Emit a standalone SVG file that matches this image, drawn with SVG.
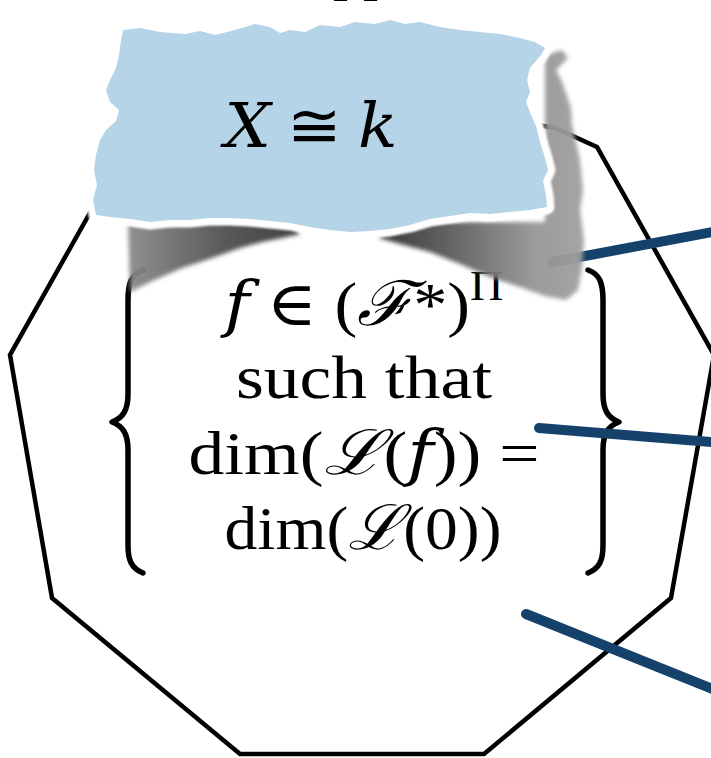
<svg xmlns="http://www.w3.org/2000/svg" width="711" height="758" viewBox="0 0 711 758">
<style>
.poly{fill:none;stroke:#000;stroke-width:4.5;stroke-linejoin:miter}
.lead{fill:none;stroke:#15426b;stroke-width:10;stroke-linecap:round}
.brace{fill:none;stroke:#000;stroke-width:5.5;stroke-linecap:round;stroke-linejoin:round}
.math{font-family:"Liberation Serif","Times New Roman",serif;fill:#000}
.it{font-family:"DejaVu Serif",serif;font-style:italic}
.sym{font-family:"DejaVu Serif","DejaVu Sans",serif}
</style>
<defs>
<filter id="blur2" x="-20%" y="-20%" width="140%" height="140%"><feGaussianBlur stdDeviation="2.2"/></filter>
<filter id="blur1" x="-10%" y="-10%" width="120%" height="120%"><feGaussianBlur stdDeviation="1.3"/></filter>
<filter id="blur05" x="-10%" y="-10%" width="120%" height="120%"><feGaussianBlur stdDeviation="0.6"/></filter>
<linearGradient id="shR" gradientUnits="userSpaceOnUse" x1="380" y1="0" x2="585" y2="0">
<stop offset="0" stop-color="#2e2e2e"/><stop offset="0.45" stop-color="#6a6a6a"/><stop offset="0.75" stop-color="#959595"/><stop offset="1" stop-color="#a0a0a0"/>
</linearGradient>
<linearGradient id="shL" gradientUnits="userSpaceOnUse" x1="128" y1="0" x2="290" y2="0">
<stop offset="0" stop-color="#8a8a8a"/><stop offset="0.6" stop-color="#505050"/><stop offset="1" stop-color="#3a3a3a"/>
</linearGradient>
</defs>

<text class="math" x="333" y="-12" font-size="60">pp</text>

<g id="frame">
<polygon class="poly" points="240,754 484,754 671,598 714,355 597,147 555,128 362,95 169,128 127,147 10,355 52,598"/>
</g>

<g id="brackets">
<path class="brace" d="M143,270 C131,274 128,284 128,300 L128,394 C128,410 123,418 112,422 C123,426 128,434 128,450 L128,545 C128,560 131,568 143,573"/>
<path class="brace" d="M588,270 C600,274 603,284 603,300 L603,394 C603,410 608,418 619,422 C608,426 603,434 603,450 L603,545 C603,560 600,568 588,573"/>
</g>

<g id="set-text">
<text class="math" x="364" y="325" font-size="62" text-anchor="middle" textLength="279" lengthAdjust="spacingAndGlyphs"><tspan class="it">f</tspan> <tspan class="sym">∈</tspan> (<tspan class="it">ℱ</tspan>*)<tspan font-size="42" dy="-25">Π</tspan></text>
<text class="math" x="364" y="398" font-size="62" text-anchor="middle" textLength="256" lengthAdjust="spacingAndGlyphs">such that</text>
<text class="math" x="364" y="474" font-size="62" text-anchor="middle" textLength="351" lengthAdjust="spacingAndGlyphs">dim(<tspan class="it">ℒ</tspan>(<tspan class="it">f</tspan>)) =</text>
<text class="math" x="363" y="549" font-size="62" text-anchor="middle" textLength="277" lengthAdjust="spacingAndGlyphs">dim(<tspan class="it">ℒ</tspan>(0))</text>
</g>

<g id="connectors">
<line class="lead" x1="553" y1="262" x2="760" y2="223"/>
<line class="lead" x1="539" y1="428" x2="760" y2="446"/>
<line class="lead" x1="526" y1="614" x2="760" y2="708"/>
</g>

<g id="paper">
<g filter="url(#blur2)">
<path fill="url(#shR)" opacity="0.95" d="M545,55 L562,50 L568,58 L556,70 L562,82 L567,96 L571,108 L572,125 L576,142 L580,160 L583,190 L580,210 L584,240 L582,268 L578,290 L566,300 L545,296 L520,287 L490,277 L460,264 L430,252 L400,244 L380,238 L380,222 L545,222 Z"/>
<path fill="url(#shL)" opacity="0.95" d="M128,222 L290,222 L300,234 L282,238 L262,242 L240,248 L212,258 L182,268 L152,281 L130,292 Z"/>
</g>
<path filter="url(#blur1)" fill="#fff" stroke="#fff" stroke-width="15" stroke-linejoin="round" d="M123,30 L140,28 L160,32 L185,34 L200,31 L215,35 L235,30 L255,24 L270,27 L280,33 L290,30 L305,32 L320,25 L340,27 L355,22 L375,24 L390,20 L405,24 L420,22 L440,27 L460,30 L480,32 L500,34 L520,38 L535,42 L545,48 L541,55 L530,68 L527,80 L530,92 L526,102 L531,115 L536,126 L540,142 L545,158 L548,170 L543,181 L546,195 L547,207 L530,210 L510,212 L490,214 L470,213 L450,216 L430,219 L410,225 L390,229 L370,231 L350,232 L330,230 L310,227 L290,223 L270,221 L250,219 L230,218 L210,218 L190,220 L170,220 L150,222 L130,219 L110,217 L96,215 L93,200 L97,185 L94,170 L96,155 L100,140 L106,130 L116,121 L119,110 L110,102 L106,90 L110,80 L116,68 L119,55 L121,40 Z"/>
<path filter="url(#blur05)" fill="#b6d4e8" d="M123,30 L140,28 L160,32 L185,34 L200,31 L215,35 L235,30 L255,24 L270,27 L280,33 L290,30 L305,32 L320,25 L340,27 L355,22 L375,24 L390,20 L405,24 L420,22 L440,27 L460,30 L480,32 L500,34 L520,38 L535,42 L545,48 L541,55 L530,68 L527,80 L530,92 L526,102 L531,115 L536,126 L540,142 L545,158 L548,170 L543,181 L546,195 L547,207 L530,210 L510,212 L490,214 L470,213 L450,216 L430,219 L410,225 L390,229 L370,231 L350,232 L330,230 L310,227 L290,223 L270,221 L250,219 L230,218 L210,218 L190,220 L170,220 L150,222 L130,219 L110,217 L96,215 L93,200 L97,185 L94,170 L96,155 L100,140 L106,130 L116,121 L119,110 L110,102 L106,90 L110,80 L116,68 L119,55 L121,40 Z"/>
<text class="math" x="311" y="147" font-size="62" text-anchor="middle" textLength="173" lengthAdjust="spacingAndGlyphs"><tspan class="it">X</tspan> <tspan class="sym">≅</tspan> <tspan class="it">k</tspan></text>
</g>
</svg>
